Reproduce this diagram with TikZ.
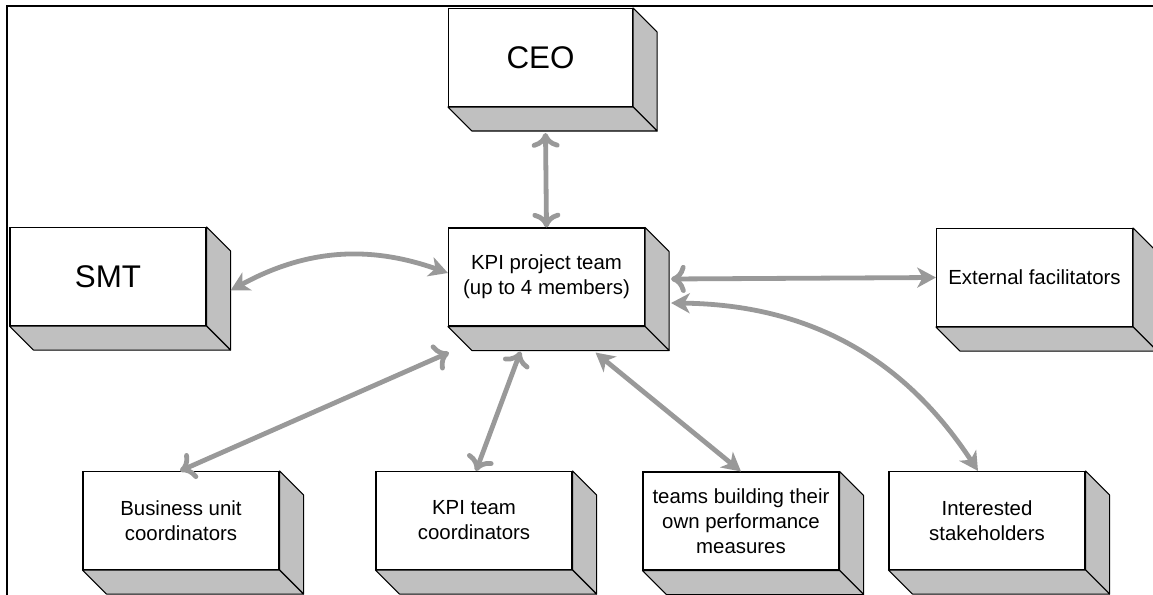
\documentclass[tikz,border=0pt]{standalone}
\usepackage{fontspec}
\setmainfont{Liberation Sans}
\usetikzlibrary{arrows.meta,calc}
\definecolor{linkgray}{HTML}{999999}
\definecolor{facegray}{HTML}{C0C0C0}
\tikzset{
	box/.style={draw, line width=0.8pt, fill=white, minimum width=147pt, minimum height=73.5pt,
		align=center, inner sep=2pt, font=\fontsize{15.3}{18.75}\selectfont},
	bigbox/.style={box, font=\fontsize{23.5}{27}\selectfont},
	face/.style={draw, line width=0.8pt, fill=facegray, line join=round},
	link/.style={draw=linkgray, line width=3.6pt},
	barbtip/.tip={Computer Modern Rightarrow[length=11pt,width=21pt]},
	filltip/.tip={Stealth[length=14pt,width=15pt,inset=4pt]},
}
\begin{document}
\begin{tikzpicture}[x=0.75pt,y=-0.75pt]
		\useasboundingbox (0,0) rectangle (1153,595);
		\draw[line width=2.2pt] (1160,6) -- (7,6) -- (7,600);
		\node[bigbox, minimum width=138pt] (ceo) at (540.5,57.5) {CEO};
		\node[bigbox] (smt) at (108,276.5) {SMT};
		\node[box] (kpi) at (546.5,277) {KPI project team\\(up to 4 members)};
		\node[box] (ext) at (1034.5,277.5) {External facilitators};
		\node[box] (bu) at (181,520.5) {Business unit\\coordinators};
		\node[box] (kt) at (474,520.5) {KPI team\\coordinators};
		\node[box] (tb) at (741,521) {teams building their\\own performance\\measures};
		\node[box] (is) at (987,520.5) {Interested\\stakeholders};
		\foreach \b in {ceo,smt,kpi,ext,bu,kt,tb,is} {
			\draw[face] (\b.north east) -- ++(24,24) -- ([shift={(24,24)}]\b.south east) -- (\b.south east) -- cycle;
			\draw[face] (\b.south west) -- ++(24,24) -- ([shift={(24,24)}]\b.south east) -- (\b.south east) -- cycle;
		}
		\draw[link, barbtip-barbtip] ($(ceo.south)+(5,26)$) -- (kpi.north);
		\draw[link, filltip-filltip] ($(smt.east)+(24,14)$) to[bend left=24] ($(kpi.west)+(0,-4)$);
		\draw[link, barbtip-filltip] ($(kpi.east)+(26,2)$) -- (ext.west);
		\draw[link, filltip-filltip] ($(kpi.east)+(26,26)$) to[bend left=28] ($(is.north)+(-9,0)$);
		\draw[link, barbtip-barbtip] ($(kpi.south west)+(1,26)$) -- ($(bu.north)+(-1,0)$);
		\draw[link, barbtip-barbtip] ($(kpi.south)+(-26,25)$) -- ($(kt.north)+(2,0)$);
		\draw[link, filltip-filltip] ($(kpi.south)+(49,26)$) -- (tb.north);
	\end{tikzpicture}
\end{document}
